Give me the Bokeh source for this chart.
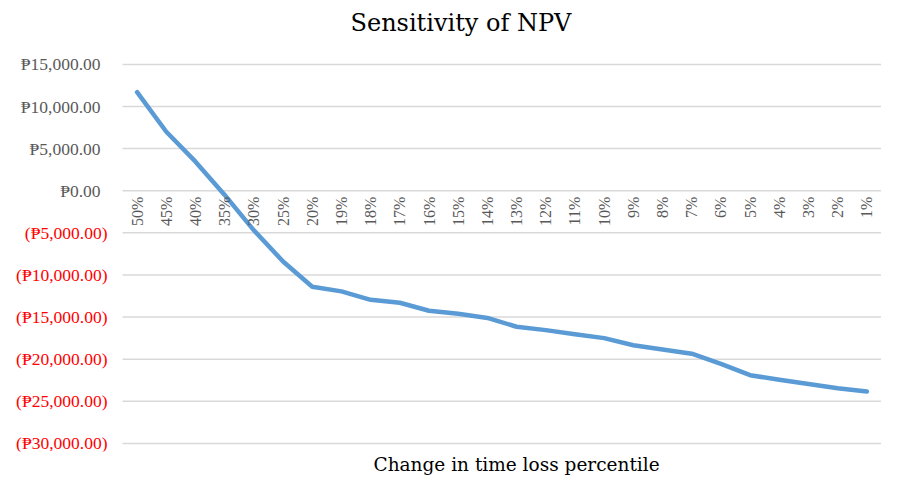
from math import pi
from bokeh.plotting import figure
from bokeh.models import ColumnDataSource, LabelSet, Range1d, Title
from bokeh.embed import file_html
from bokeh.resources import INLINE

# ---- data ----
categories = ["50%", "45%", "40%", "35%", "30%", "25%", "20%", "19%", "18%", "17%",
              "16%", "15%", "14%", "13%", "12%", "11%", "10%", "9%", "8%", "7%",
              "6%", "5%", "4%", "3%", "2%", "1%"]
npv = [11700, 7000, 3450, -500, -4700, -8400, -11400, -11950, -12950, -13300,
       -14250, -14600, -15100, -16150, -16550, -17050, -17500, -18350, -18850, -19350,
       -20550, -21900, -22450, -22950, -23450, -23850]
y_ticks = [15000, 10000, 5000, 0, -5000, -10000, -15000, -20000, -25000, -30000]
y_tick_labels = ["₱15,000.00", "₱10,000.00", "₱5,000.00", "₱0.00", "(₱5,000.00)",
                 "(₱10,000.00)", "(₱15,000.00)", "(₱20,000.00)", "(₱25,000.00)", "(₱30,000.00)"]
chart_title = "Sensitivity of NPV"
x_title = "Change in time loss percentile"

FONT = "DejaVu Serif"
GRAY = "#595959"
RED = "#FF0000"

W, H = 881, 475
PLOT_LEFT = 122          # pixel where the category band starts (room for value labels)
n = len(categories)
xpos = list(range(n))    # category slots
slot_px = (W - PLOT_LEFT) / n
x_start = -0.5 - PLOT_LEFT / slot_px

p = figure(width=W, height=H,
           x_range=Range1d(x_start, n - 0.5), y_range=Range1d(-30963, 17600),
           output_backend="svg", toolbar_location=None,
           min_border_left=0, min_border_right=0, min_border_top=0, min_border_bottom=24)

p.outline_line_color = None
p.xaxis.visible = False
p.yaxis.visible = False
p.xgrid.visible = False
p.ygrid.visible = False

# horizontal gridlines over the category band only
grid_src = ColumnDataSource(dict(x0=[-0.5] * len(y_ticks), x1=[n - 0.5] * len(y_ticks),
                                 y=y_ticks))
p.segment(x0="x0", x1="x1", y0="y", y1="y", source=grid_src,
          line_color="#D9D9D9", line_width=1.5)

p.title.text = chart_title
p.title.align = "left"
p.title.offset = 350
p.title.text_font = FONT
p.title.text_font_size = "24px"
p.title.text_font_style = "normal"
p.title.text_color = "#000000"
p.title.standoff = 12

p.add_layout(Title(text=x_title, align="left", offset=373, text_font=FONT,
                   text_font_size="18.5px", text_font_style="normal", text_color="#000000",
                   background_fill_color="white", standoff=0), "below")

p.line(x=xpos, y=npv, line_color="#5B9BD5", line_width=4.5,
       line_cap="round", line_join="round")

# value labels (positive gray, negative red in parentheses)
ysrc = ColumnDataSource(dict(
    x=[-0.5] * len(y_ticks),
    y=y_ticks,
    text=y_tick_labels,
    color=[GRAY if v >= 0 else RED for v in y_ticks],
    xo=[-22 if v >= 0 else -15 for v in y_ticks],
))
p.text(x="x", y="y", text="text", source=ysrc, x_offset="xo",
       text_align="right", text_baseline="middle", text_color="color",
       text_font=FONT, text_font_size="17.5px")

# category labels along the zero line, rotated
xsrc = ColumnDataSource(dict(x=xpos, y=[0] * n, text=categories))
p.add_layout(LabelSet(x="x", y="y", text="text", source=xsrc, angle=pi / 2,
                      y_offset=-6, text_align="right", text_baseline="middle",
                      text_color=GRAY, text_font=FONT, text_font_size="16px"))

open("out.html", "w").write(file_html(p, INLINE))
